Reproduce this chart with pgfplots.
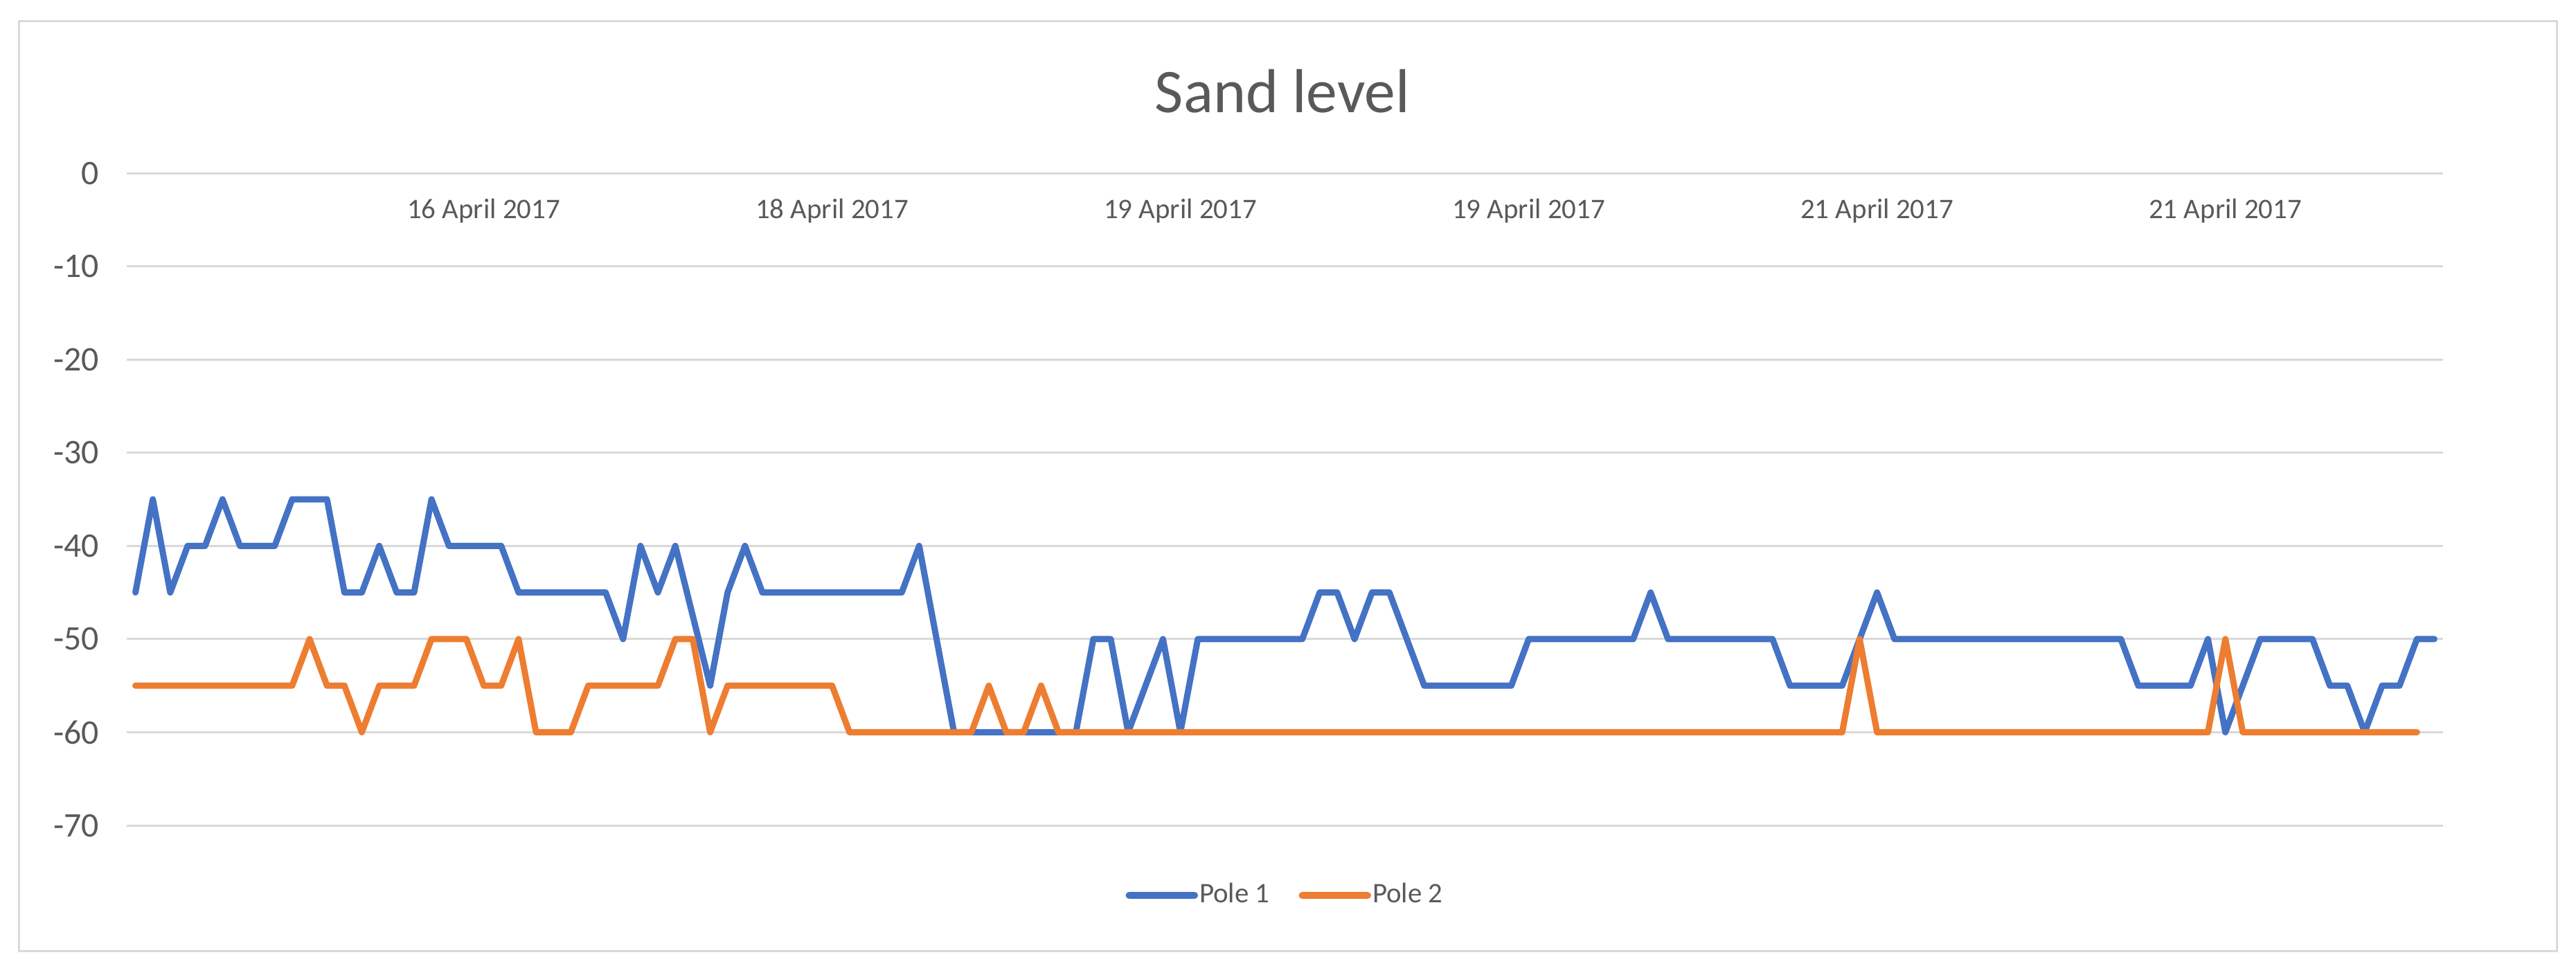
\documentclass[border=0pt]{standalone}
\usepackage{pgfplots}
\usepackage{pgfplotstable}
\pgfplotsset{compat=1.18}
\usepackage{fontspec}
\setmainfont{Carlito}
\definecolor{txt}{HTML}{595959}
\definecolor{gridc}{HTML}{D9D9D9}
\definecolor{pone}{HTML}{4472C4}
\definecolor{ptwo}{HTML}{ED7D31}

\pgfplotstableread{
x y
0 -45
1 -35
2 -45
3 -40
4 -40
5 -35
6 -40
7 -40
8 -40
9 -35
10 -35
11 -35
12 -45
13 -45
14 -40
15 -45
16 -45
17 -35
18 -40
19 -40
20 -40
21 -40
22 -45
23 -45
24 -45
25 -45
26 -45
27 -45
28 -50
29 -40
30 -45
31 -40
32 -47.5
33 -55
34 -45
35 -40
36 -45
37 -45
38 -45
39 -45
40 -45
41 -45
42 -45
43 -45
44 -45
45 -40
46 -50
47 -60
48 -60
49 -60
50 -60
51 -60
52 -60
53 -60
54 -60
55 -50
56 -50
57 -60
58 -55
59 -50
60 -60
61 -50
62 -50
63 -50
64 -50
65 -50
66 -50
67 -50
68 -45
69 -45
70 -50
71 -45
72 -45
73 -50
74 -55
75 -55
76 -55
77 -55
78 -55
79 -55
80 -50
81 -50
82 -50
83 -50
84 -50
85 -50
86 -50
87 -45
88 -50
89 -50
90 -50
91 -50
92 -50
93 -50
94 -50
95 -55
96 -55
97 -55
98 -55
99 -50
100 -45
101 -50
102 -50
103 -50
104 -50
105 -50
106 -50
107 -50
108 -50
109 -50
110 -50
111 -50
112 -50
113 -50
114 -50
115 -55
116 -55
117 -55
118 -55
119 -50
120 -60
121 -55
122 -50
123 -50
124 -50
125 -50
126 -55
127 -55
128 -60
129 -55
130 -55
131 -50
132 -50
}\poleone

\pgfplotstableread{
x y
0 -55
1 -55
2 -55
3 -55
4 -55
5 -55
6 -55
7 -55
8 -55
9 -55
10 -50
11 -55
12 -55
13 -60
14 -55
15 -55
16 -55
17 -50
18 -50
19 -50
20 -55
21 -55
22 -50
23 -60
24 -60
25 -60
26 -55
27 -55
28 -55
29 -55
30 -55
31 -50
32 -50
33 -60
34 -55
35 -55
36 -55
37 -55
38 -55
39 -55
40 -55
41 -60
42 -60
43 -60
44 -60
45 -60
46 -60
47 -60
48 -60
49 -55
50 -60
51 -60
52 -55
53 -60
54 -60
55 -60
56 -60
57 -60
58 -60
59 -60
60 -60
61 -60
62 -60
63 -60
64 -60
65 -60
66 -60
67 -60
68 -60
69 -60
70 -60
71 -60
72 -60
73 -60
74 -60
75 -60
76 -60
77 -60
78 -60
79 -60
80 -60
81 -60
82 -60
83 -60
84 -60
85 -60
86 -60
87 -60
88 -60
89 -60
90 -60
91 -60
92 -60
93 -60
94 -60
95 -60
96 -60
97 -60
98 -60
99 -50
100 -60
101 -60
102 -60
103 -60
104 -60
105 -60
106 -60
107 -60
108 -60
109 -60
110 -60
111 -60
112 -60
113 -60
114 -60
115 -60
116 -60
117 -60
118 -60
119 -60
120 -50
121 -60
122 -60
123 -60
124 -60
125 -60
126 -60
127 -60
128 -60
129 -60
130 -60
131 -60
}\poletwo

\begin{document}
\begin{tikzpicture}
\path[use as bounding box] (0bp,0bp) rectangle (744bp,-281.6bp);
\draw[gridc, line width=0.6bp] (5.4bp,-6bp) rectangle (738.4bp,-274.6bp);
\node[anchor=base, text=txt, font=\fontsize{18}{20}\selectfont, inner sep=0pt] at (370.4bp,-32.4bp) {Sand level};
\begin{axis}[
  at={(36.6bp,-238.4bp)}, anchor=south west,
  width=669bp, height=188.4bp, scale only axis,
  xmin=-0.5, xmax=132.5, ymin=-70, ymax=0,
  axis line style={draw=none},
  ytick={-70,-60,...,0},
  xtick={20,40,60,80,100,120},
  xticklabels={16 April 2017,18 April 2017,19 April 2017,19 April 2017,21 April 2017,21 April 2017},
  xticklabel pos=upper,
  xticklabel style={anchor=base, yshift=-13bp, inner sep=0pt, text=txt, font=\fontsize{8.2}{9}\selectfont},
  yticklabel style={anchor=east, inner sep=0pt, xshift=-7.8bp, text=txt, font=\fontsize{10}{11}\selectfont},
  /pgf/number format/assume math mode=true,
  major tick length=0pt,
  ymajorgrids, major grid style={gridc, line width=0.6bp},
  clip=false,
  legend style={at={(0.5,0)}, anchor=center, yshift=-20.2bp, draw=none, fill=none,
    font=\fontsize{8.2}{9}\selectfont, text=txt, legend columns=2,
    /tikz/every even column/.append style={column sep=8bp},
    nodes={inner sep=0.4bp}},
  legend image code/.code={\draw[#1, line width=2.1bp] (0bp,0bp) -- (18.8bp,0bp);},
  every axis plot/.append style={line width=1.8bp, line cap=round, line join=round, no marks},
]
\addplot[pone] table[x=x,y=y] {\poleone};
\addlegendentry{Pole 1}
\addplot[ptwo] table[x=x,y=y] {\poletwo};
\addlegendentry{Pole 2}
\end{axis}
\end{tikzpicture}
\end{document}
